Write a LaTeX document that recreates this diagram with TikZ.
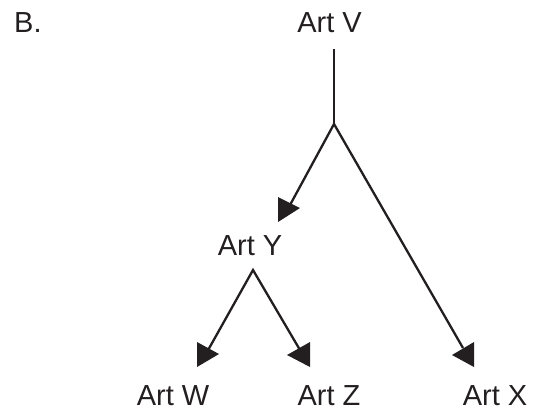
\documentclass[tikz,border=0pt]{standalone}
\usepackage{fontspec}
\setmainfont{Liberation Sans}
\definecolor{ink}{HTML}{231F20}
\begin{document}
\begin{tikzpicture}[x=1pt,y=-1pt,
  lbl/.style={anchor=base,inner sep=0pt,font=\fontsize{29}{34}\selectfont,text=ink},
  conn/.style={line width=2.3pt,draw=ink,line join=miter},
  headL/.style={fill=ink},
  headR/.style={fill=ink}]
\useasboundingbox (0,0) rectangle (534,415);
% labels
\node[lbl,anchor=base west] (B) at (14,32) {B.};
\node[lbl] (V) at (329.5,32) {Art V};
\node[lbl] (Y) at (250,255) {Art Y};
\node[lbl] (W) at (173,405) {Art W};
\node[lbl] (Z) at (329,405) {Art Z};
\node[lbl] (X) at (495,405) {Art X};
% junctions and ends
\coordinate (vb) at (334,49);
\coordinate (J) at (334,124);
\coordinate (ya) at (253,270);
\coordinate (eY) at (290,205);
\coordinate (eW) at (207,352);
\coordinate (eZ) at (300,350);
\coordinate (eX) at (463,348);
% connectors
\draw[conn] (vb) -- (J);
\draw[conn] (eY) -- (J) -- (eX);
\draw[conn] (eW) -- (ya) -- (eZ);
% arrowheads
\fill[headL] ([shift={(-12,-8)}]eY) -- ++(0,25) -- ++(22,-14) -- cycle;
\fill[headL] ([shift={(-10,-10)}]eW) -- ++(0,25) -- ++(22,-13) -- cycle;
\fill[headR] ([shift={(10,-8)}]eZ) -- ++(0,25) -- ++(-23,-12) -- cycle;
\fill[headR] ([shift={(11,-6)}]eX) -- ++(0,25) -- ++(-22,-12) -- cycle;
\end{tikzpicture}
\end{document}
